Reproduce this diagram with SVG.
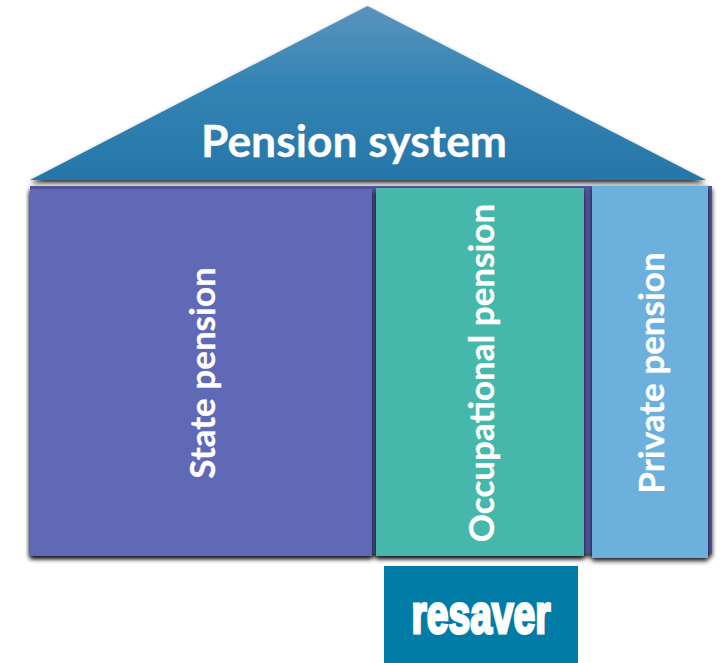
<svg xmlns="http://www.w3.org/2000/svg" width="723" height="663" viewBox="0 0 723 663">
<style>
.l{font-family:Lato,"Liberation Sans",sans-serif;font-weight:700;fill:#fff;text-anchor:middle;stroke:#fff;stroke-width:.3}
.p{font-size:35px}
</style>
<defs>
<linearGradient id="g" x1="0" y1="0" x2="0" y2="1"><stop offset="0" stop-color="#5b93bd"/><stop offset="0.45" stop-color="#3384b4"/><stop offset="1" stop-color="#2776a8"/></linearGradient>
<filter id="s" x="-5%" y="-5%" width="110%" height="110%"><feGaussianBlur in="SourceAlpha" stdDeviation="2.5"/><feOffset dx="0" dy="3"/><feComponentTransfer><feFuncA type="linear" slope="0.85"/></feComponentTransfer><feMerge><feMergeNode/><feMergeNode in="SourceGraphic"/></feMerge></filter>
</defs>
<rect width="723" height="663" fill="#fff"/>
<g id="roof"><polygon points="367.500,6 706,180 30,180" fill="url(#g)" filter="url(#s)"/><text class="l" x="354" y="157" font-size="44.400">Pension system</text></g>
<g id="state-pension"><rect x="30" y="186" width="682" height="368" fill="#5454a0" filter="url(#s)"/><rect x="30" y="189" width="342" height="367" fill="#5f69b6" filter="url(#s)"/><text class="l p" transform="translate(215 373) rotate(-90)">State pension</text></g>
<g id="occupational-pension"><rect x="376" y="188" width="208" height="368" fill="#45b7ab" filter="url(#s)"/><text class="l p" transform="translate(494 373) rotate(-90)">Occupational pension</text></g>
<g id="private-pension"><rect x="592" y="186" width="116" height="372" fill="#6cb1dd" filter="url(#s)"/><text class="l p" transform="translate(664 373) rotate(-90)">Private pension</text></g>
<g id="resaver"><rect x="384" y="566" width="194" height="97" fill="#007ca6"/><text x="481" y="632.500" font-family="'Liberation Sans',sans-serif" font-weight="700" font-size="56" fill="#fff" stroke="#fff" stroke-width="3" text-anchor="middle" textLength="139" lengthAdjust="spacingAndGlyphs">resaver</text></g>
<g id="connectors"/>
</svg>
